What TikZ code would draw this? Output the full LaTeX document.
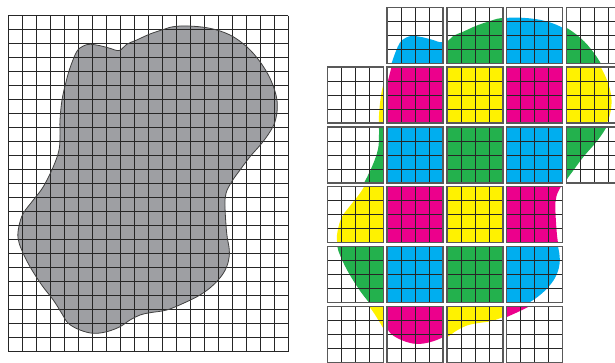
\documentclass[tikz,border=0pt]{standalone}
\usepackage{tikz}
\definecolor{blobgray}{RGB}{158,159,163}
\definecolor{ccyan}{RGB}{0,174,239}
\definecolor{cmag}{RGB}{236,0,140}
\definecolor{cyel}{RGB}{255,242,0}
\definecolor{cgreen}{RGB}{35,177,77}
\tikzset{
  blobshape/.style={insert path={plot[smooth cycle,tension=0.6] coordinates {
    (76.7,51.7) (83.3,46) (90,44.3) (100,45.7) (110,48.3) (119.3,50.5)
    (126.7,44.3) (136.7,40) (150,34) (163.3,29.5) (173.3,26.7) (188.3,26)
    (210,28.3) (230,35) (246.7,46.7) (260,61.7) (270,78.3) (276,95)
    (277.3,108.3) (275,121.7) (270,131.7) (261.7,143.3) (250,156.7) (240,170)
    (231.7,181.7) (226,193.3) (225,206.7) (226.7,233.3) (229.3,250) (228.3,261.7)
    (223.3,273.3) (213.3,285) (200,295) (183.3,303.3) (166.7,310) (150,312.7)
    (140,315) (130,320) (120,326.7) (106.7,331.7) (93.3,333.3) (80,330)
    (68.3,323.3) (61.7,313.3) (53.3,300) (41.7,285) (30,266.7) (21.7,250)
    (18,238) (19,226) (23.3,213.3) (33.3,200) (43.3,186.7) (53.3,166.7)
    (59,150) (60,135) (60,120) (62,100) (66,82) (70,68)}}},
  gridline/.style={line width=0.8pt,draw=black!85},
  tileframe/.style={line width=1.3pt,draw=black!65},
  blobline/.style={line width=0.8pt,draw=black!75}
}
\begin{document}
\begin{tikzpicture}[x=1pt,y=-1pt]
\useasboundingbox (0,0) rectangle (615,362);
% left: whole shape on grid
\fill[blobgray, blobshape];
\foreach \i in {0,...,20}{\draw[gridline] (8.3+14*\i,15.7) -- ++(0,336);}
\foreach \j in {0,...,24}{\draw[gridline] (8.3,15.7+14*\j) -- ++(280,0);}
\draw[blobline, blobshape];
% right: exploded tiles
\foreach \c/\r/\col in {1/0/ccyan,2/0/cgreen,3/0/ccyan,4/0/cgreen,
  0/1/cyel,1/1/cmag,2/1/cyel,3/1/cmag,4/1/cyel,
  0/2/cgreen,1/2/ccyan,2/2/cgreen,3/2/ccyan,4/2/cgreen,
  0/3/cyel,1/3/cmag,2/3/cyel,3/3/cmag,
  0/4/cgreen,1/4/ccyan,2/4/cgreen,3/4/ccyan,
  0/5/cyel,1/5/cmag,2/5/cyel,3/5/cmag}{
  \pgfmathsetmacro\xo{327.3+59.8*\c}
  \pgfmathsetmacro\yo{7.3+59.8*\r}
  \pgfmathsetmacro\dx{\xo-8.3-56*\c}
  \pgfmathsetmacro\dy{\yo-15.7-56*\r}
  \begin{scope}
    \clip (\xo,\yo) rectangle ++(56,56);
    \fill[\col, shift={(\dx,\dy)}, blobshape];
  \end{scope}
  \foreach \k in {1,2,3}{
    \draw[gridline] (\xo+14*\k,\yo) -- ++(0,56);
    \draw[gridline] (\xo,\yo+14*\k) -- ++(56,0);
  }
  \draw[tileframe] (\xo,\yo) rectangle ++(56,56);
}
\end{tikzpicture}
\end{document}
